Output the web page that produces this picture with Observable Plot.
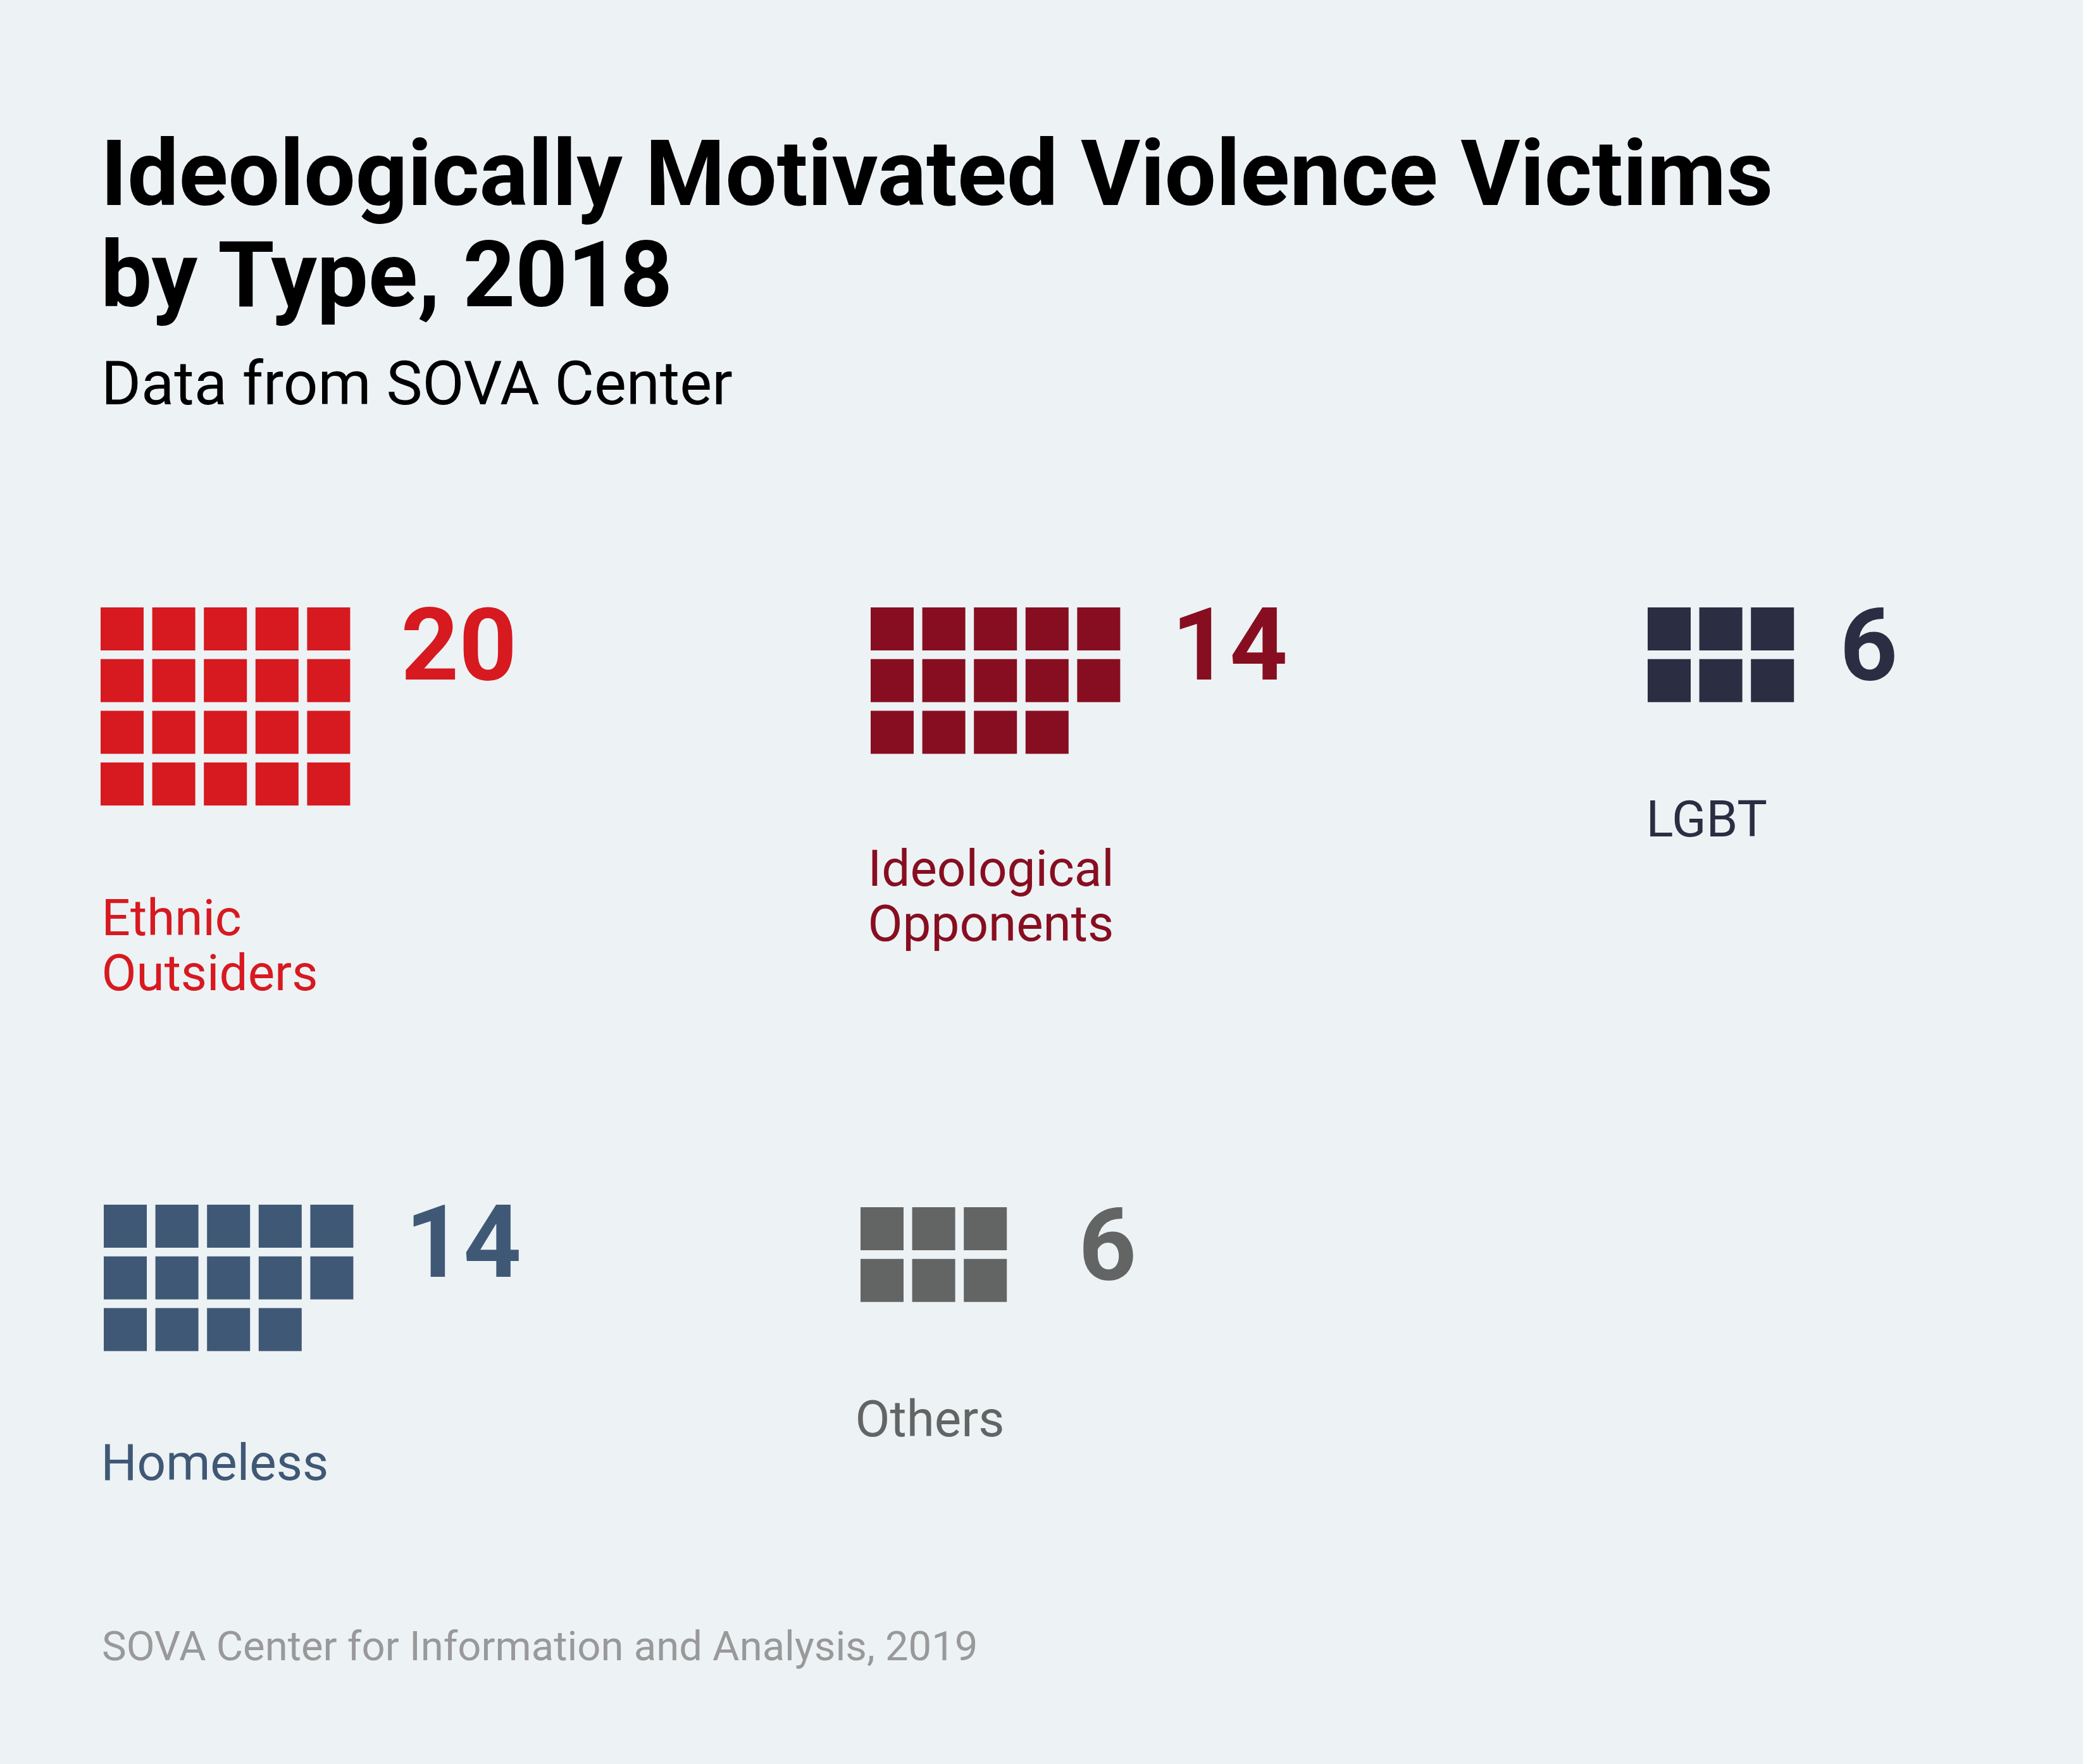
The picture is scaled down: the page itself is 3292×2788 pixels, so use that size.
<!DOCTYPE html>
<html>
<head>
<meta charset="utf-8">
<script src="https://cdn.jsdelivr.net/npm/d3@7"></script>
<script src="https://cdn.jsdelivr.net/npm/@observablehq/plot@0.6"></script>
<style>
  html, body { margin: 0; padding: 0; background: #edf2f5; }
  #wrap { position: relative; width: 3292px; height: 2788px; background: #edf2f5; font-family: Roboto, sans-serif; }
  #title { position: absolute; left: 159px; top: 195px; font: 700 144.4px/160px Roboto, sans-serif; color: #000; white-space: nowrap; }
  #sub { position: absolute; left: 160px; top: 551px; font: 400 96px/110px Roboto, sans-serif; color: #000; white-space: nowrap; }
  #chart { position: absolute; left: 0; top: 700px; }
  #cap { position: absolute; left: 161px; top: 2564px; font: 400 65.2px/76px Roboto, sans-serif; color: #999999; white-space: nowrap; }
</style>
</head>
<body>
<div id="wrap">
  <div id="title">Ideologically Motivated Violence Victims<br>by Type, 2018</div>
  <div id="sub">Data from SOVA Center</div>
  <div id="chart"></div>
  <div id="cap">SOVA Center for Information and Analysis, 2019</div>
</div>
<script>
// ---- data ----
const categories = ["Ethnic Outsiders", "Ideological Opponents", "LGBT", "Homeless", "Others"];
const labels = ["Ethnic\nOutsiders", "Ideological\nOpponents", "LGBT", "Homeless", "Others"];
const victims = [20, 14, 6, 14, 6];

// ---- style ----
const palette = ["#d71920", "#870e20", "#2b2d42", "#3f5875", "#636564"];

// ---- layout (page pixels) ----
const chartTop = 700;
const W = 3292, H = 1840;
const cell = 68, pitchX = 81.6, pitchY = 81.7;
const labelSize = 80, labelLH = 1.1;
const panels = [
  {gx: 159,  gy: 960,  cols: 5, nx: 633,  lx: 160,  ldy: 0},
  {gx: 1376, gy: 960,  cols: 5, nx: 1851, lx: 1371, ldy: 0},
  {gx: 2604, gy: 960,  cols: 3, nx: 2907, lx: 2601, ldy: 0},
  {gx: 164,  gy: 1904, cols: 5, nx: 640,  lx: 159,  ldy: -5},
  {gx: 1360, gy: 1908, cols: 3, nx: 1704, lx: 1351, ldy: 0}
];

const cells = [];
categories.forEach((c, k) => {
  const p = panels[k];
  for (let i = 0; i < victims[k]; i++) {
    const col = i % p.cols, row = Math.floor(i / p.cols);
    cells.push({
      category: c,
      x1: p.gx + col * pitchX,
      y1: p.gy - chartTop + row * pitchY
    });
  }
});

const summary = categories.map((c, k) => {
  const p = panels[k];
  const rows = Math.ceil(victims[k] / p.cols);
  const baseline = p.gy - chartTop + rows * 78 + 205 + p.ldy;
  return {
    category: c,
    label: labels[k],
    value: victims[k],
    nx: p.nx,
    ny: p.gy - chartTop,
    lx: p.lx,
    ly: baseline - 0.71 * labelLH * labelSize
  };
});

const chart = Plot.plot({
  width: W,
  height: H,
  margin: 0,
  x: {domain: [0, W], range: [0, W], axis: null},
  y: {domain: [0, H], range: [0, H], axis: null},
  color: {domain: categories, range: palette},
  style: {background: "transparent", fontFamily: "Roboto, sans-serif"},
  marks: [
    Plot.rect(cells, {
      x1: "x1", x2: d => d.x1 + cell,
      y1: "y1", y2: d => d.y1 + cell,
      fill: "category"
    }),
    Plot.text(summary, {
      x: "nx", y: "ny", text: d => String(d.value),
      fill: "category", fontSize: 160, fontWeight: 700,
      textAnchor: "start", lineAnchor: "top"
    }),
    Plot.text(summary, {
      x: "lx", y: "ly", text: "label",
      fill: "category", fontSize: labelSize, fontWeight: 400, lineHeight: labelLH,
      textAnchor: "start", lineAnchor: "top"
    })
  ]
});
document.getElementById("chart").appendChild(chart);
</script>
</body>
</html>
